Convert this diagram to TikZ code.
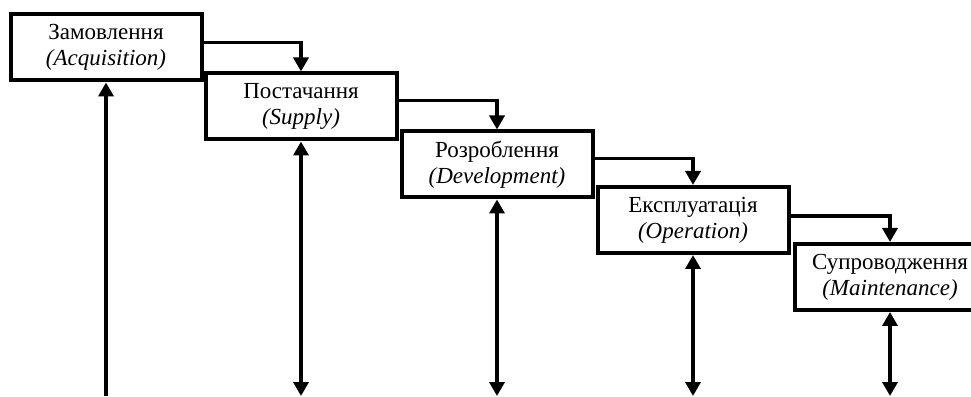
\documentclass[tikz,border=0pt]{standalone}
\usepackage{fontspec}
\setmainfont{Liberation Serif}
\usetikzlibrary{arrows.meta,positioning}

\begin{document}
\begin{tikzpicture}[
  x=1pt, y=1pt,
  every node/.style={draw, line width=4pt, minimum width=191pt, minimum height=66pt, inner sep=0pt, align=center, font=\fontsize{23}{22}\selectfont},
  arr/.style={-{Triangle[width=15pt, length=14pt]}, line width=3.5pt},
  biarr/.style={{Triangle[width=15pt, length=14pt]}-{Triangle[width=15pt, length=14pt]}, line width=3.5pt},
]
  \useasboundingbox (0,0) rectangle (971,396);
  \clip (0,0) rectangle (971,396);

  % Processes (stairs)
  \node (zam) at (106,348.5) {Замовлення\\[4pt]\textit{(Acquisition)}};
  \node (post) at (301,289.5) {Постачання\\[4pt]\textit{(Supply)}};
  \node (rozr) at (497,231.5) {Розроблення\\[4pt]\textit{(Development)}};
  \node (eksp) at (693,176) {Експлуатація\\[4pt]\textit{(Operation)}};
  \node (sup) at (890,119) {Супроводження\\[4pt]\textit{(Maintenance)}};

  % Bottom ends
  \coordinate (zam0) at (106,0);
  \coordinate (post0) at (301,0);
  \coordinate (rozr0) at (497,0);
  \coordinate (eksp0) at (693,0);
  \coordinate (sup0) at (890,0);

  % Edges
  \draw[arr] ([yshift=5pt]zam.east) -| (post.north);
  \draw[arr] ([yshift=6pt]post.east) -| (rozr.north);
  \draw[arr] ([yshift=6pt]rozr.east) -| (eksp.north);
  \draw[arr] ([yshift=4pt]eksp.east) -| (sup.north);
  \draw[arr] (zam0) -- (zam.south);
  \draw[biarr] (post0) -- (post.south);
  \draw[biarr] (rozr0) -- (rozr.south);
  \draw[biarr] (eksp0) -- (eksp.south);
  \draw[biarr] (sup0) -- (sup.south);
\end{tikzpicture}
\end{document}
